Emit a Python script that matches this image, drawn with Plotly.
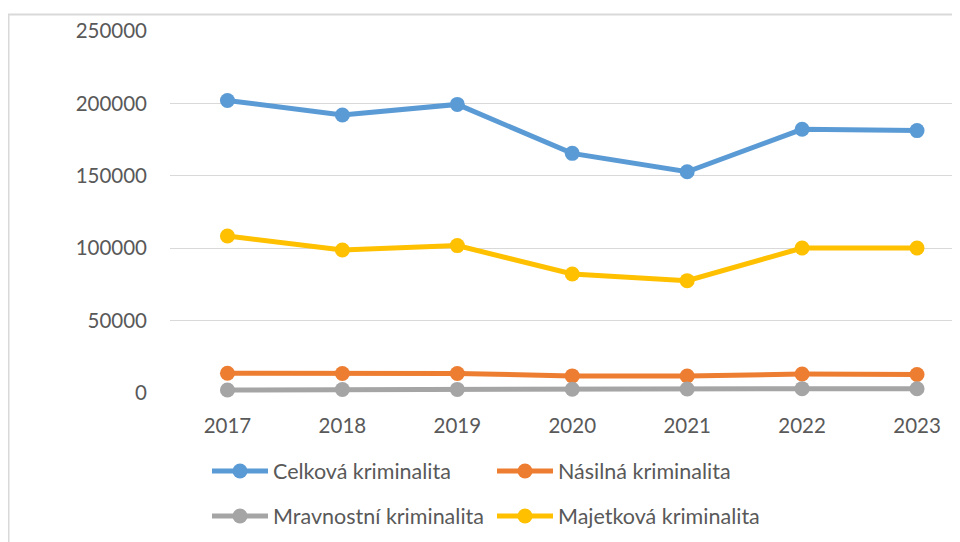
import plotly.graph_objects as go

years = ["2017", "2018", "2019", "2020", "2021", "2022", "2023"]
celkova = [202000, 192000, 199300, 165500, 152800, 182100, 181200]
nasilna = [13600, 13500, 13500, 11800, 11700, 13100, 12800]
mravnostni = [2100, 2400, 2500, 2600, 2800, 3000, 2900]
majetkova = [108400, 98800, 101800, 82200, 77600, 100100, 100100]

names = ["Celková kriminalita", "Násilná kriminalita", "Mravnostní kriminalita", "Majetková kriminalita"]
series = [celkova, nasilna, mravnostni, majetkova]
colors = ["#5B9BD5", "#ED7D31", "#A5A5A5", "#FFC000"]
legends = ["legend", "legend", "legend2", "legend2"]
y_ticks = [0, 50000, 100000, 150000, 200000, 250000]

OFF = 8  # default page body margin
W, H = 960 - OFF, 542 - OFF
L, T = 170 - OFF, 31 - OFF
R = 0
B = H - (393 - OFF)
pw = W - L - R
ph = H - T - B

def px(x):
    return (x - OFF - L) / pw

def py(y):
    return (H - B - (y - OFF)) / ph

fig = go.Figure()
for name, vals, col, lg in zip(names, series, colors, legends):
    fig.add_trace(go.Scatter(
        x=years, y=vals, name=name, mode="lines+markers",
        line=dict(color=col, width=5),
        marker=dict(color=col, size=15),
        cliponaxis=False, legend=lg,
    ))

tick_font = dict(family="Lato, Calibri, Carlito, sans-serif", size=20.5, color="#595959")
leg_font = dict(family="Lato, Calibri, Carlito, sans-serif", size=21.5, color="#595959")
legend_common = dict(
    orientation="h", xanchor="left", yanchor="middle",
    font=leg_font, bgcolor="rgba(0,0,0,0)", itemwidth=56,
    entrywidth=214, entrywidthmode="pixels",
)

fig.update_layout(
    width=W, height=H,
    margin=dict(l=L, r=R, t=T, b=B, pad=0),
    paper_bgcolor="white", plot_bgcolor="white",
    font=tick_font,
    showlegend=True,
    legend=dict(x=px(207), y=py(471), **legend_common),
    legend2=dict(x=px(207), y=py(516), **legend_common),
    xaxis=dict(type="category", range=[-0.5, 6 + (960 - 917) / 115],
               showgrid=False, zeroline=False, showline=False,
               ticks="", ticklabelstandoff=18, tickfont=tick_font),
    yaxis=dict(range=[0, 250000], tickvals=y_ticks,
               ticktext=[str(v) for v in y_ticks],
               showgrid=True, gridcolor="#D9D9D9", gridwidth=1,
               zeroline=False, showline=False, ticks="",
               ticklabelstandoff=22, tickfont=tick_font),
    shapes=[
        dict(type="line", xref="paper", yref="paper",
             x0=px(8), x1=px(965), y0=py(14.5), y1=py(14.5),
             line=dict(color="#D9D9D9", width=2)),
        dict(type="line", xref="paper", yref="paper",
             x0=px(8.5), x1=px(8.5), y0=py(14), y1=py(550),
             line=dict(color="#D9D9D9", width=2)),
    ],
)

fig.write_html("out.html")
